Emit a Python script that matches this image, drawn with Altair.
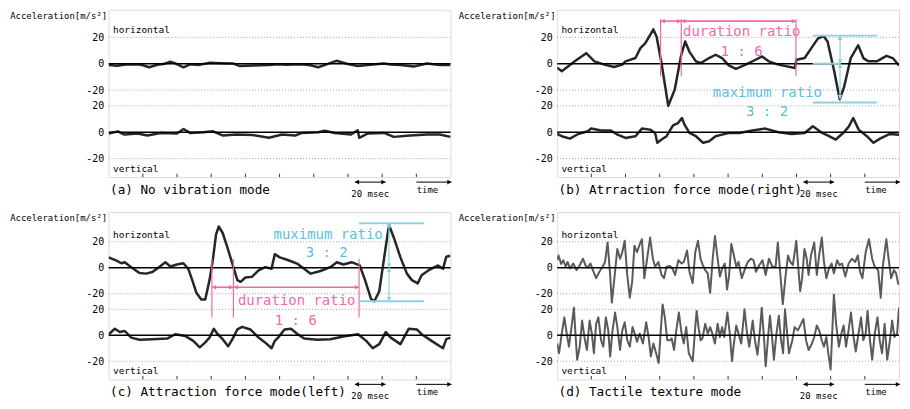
import altair as alt
import pandas as pd

V_OFF = 52
FONT = "DejaVu Sans Mono"
INK = "#262626"
INK_D = "#5a5a5a"
PINK = "#f06aa8"
CYAN = "#5bbfdc"
CYAN_LINE = "#8fd0e2"

W = 343
H = 168
X_DOMAIN = [0, 200]
Y_DOMAIN_TOP = [-86, 41]
Y_DOMAIN_BOT = [-86, 43]
Y_TICKS = [20, 0, -20, 20 - V_OFF, -V_OFF, -20 - V_OFF]
GRID_Y = [20, -20, 20 - V_OFF, -20 - V_OFF]
ZERO_Y = [0, -V_OFF]
X_TICKS = [20, 40, 60, 80, 100, 120, 140, 160, 180]

CAPTIONS = ["(a) No vibration mode", "(b) Atrraction force mode(right)",
            "(c) Attraction force mode(left)", "(d) Tactile texture mode"]

# ---- signals: (time [ms], acceleration [m/s^2]) ----
A_H = [(0, -1), (5, -1.5), (10, -0.6), (16.9, -0.5), (20, -1.2), (23.7, -2.7), (28.5, -0.8),
       (32, -0.3), (36.1, 1.5), (39.0, 0.2), (43.8, -2.7), (47.6, -0.5), (53, -0.9), (59.2, 0.7),
       (66, 0.4), (72.6, 0.2), (76.5, -1.7), (85, -1.3), (93.8, -1), (99, -0.4), (104, -0.7),
       (113.0, -0.5), (118, -1.2), (122.6, -2.7), (127.4, -0.5), (133.2, 2.2), (139.9, -0.2),
       (145.7, -1.7), (153, -0.8), (161.1, 0.2), (165, -0.6), (170.7, -1), (178.4, -2.2),
       (186.1, 0.2), (193.7, -1), (200, -1)]
A_V = [(0, -1), (5.4, 0.7), (9.2, -1.7), (16.9, -1), (22.7, -2.5), (30.4, -0.5), (40.0, -1),
       (43.8, 2.5), (47.6, -0.5), (55.3, 0), (61.1, 0.7), (66.9, -2.5), (74.6, -1.7),
       (84.2, -2), (93.8, -4.2), (101.4, -1.7), (109.1, -2.5), (113.0, -0.5), (122.6, 0),
       (126.4, 1.2), (132.2, -0.5), (141.8, -1.7), (145.7, 1.5), (146.6, -4.2), (151.4, -1),
       (161.1, -0.5), (166.8, -3.5), (176.4, -2.5), (186.1, -1.7), (193.7, -1.7), (200, -3.5)]

B_H = [(0, -3), (2.7, -5.7), (10.3, 1.8), (17.0, 8), (21.8, 1.8), (27.6, -0.7), (33.3, -2.5),
       (38.1, -0.7), (40.0, 1.8), (45.8, 4.3), (48.7, 11.8), (51.5, 15.5), (56.3, 26),
       (58.2, 20.5), (61.1, 0), (65.0, -32), (68.8, -19.5), (72.6, 6.8), (74.9, 16.8),
       (77.4, 9), (81.2, 1.8), (84.1, 0.5), (88.9, 4.3), (92.7, 6.8), (96.5, 4.3),
       (100.4, -1.3), (104.6, -4), (110.3, -0.7), (116.1, 3), (119.9, 5.5), (123.8, 1.8),
       (129.5, -0.7), (139.1, -3.3), (140.0, 3), (144.8, 4.3), (148.7, 11.8), (152.5, 19),
       (155.8, 21), (158.2, 16.8), (162.1, -5.7), (165.3, -27), (167.8, -18), (171.7, 4),
       (176.1, 14), (179.3, 4), (182.2, 1.8), (187.0, 1.8), (192.7, 6), (196.6, 4), (200, -1.3)]
B_V = [(0, -1.3), (2.7, -3), (7.5, -4.8), (12.3, -1.3), (18.0, 0.8), (19.9, 2.8), (25.7, 1.3),
       (31.4, 1.3), (35.3, -1.8), (40.0, -4.3), (45.8, -3), (49.6, 2.8), (54.4, 2),
       (57.3, -0.5), (58.6, -8), (61.1, -5.5), (64.0, -3), (67.8, 5.3), (70.7, 7), (73.0, 10.8),
       (74.5, 5.8), (77.4, -0.5), (81.2, -3), (85.4, -8), (88.9, -6.8), (92.7, -3), (96.5, -1.8),
       (100.4, -0.5), (106.5, -0.5), (114.2, 1.3), (121.8, 2.8), (129.5, 0), (137.2, -1.3),
       (144.8, -0.5), (149.6, 4.5), (154.4, 0), (158.2, -2.3), (163.0, -5.5), (167.8, 0),
       (170.7, 4.5), (173.2, 10.8), (176.4, 2), (181.2, -3), (185.1, -8), (188.9, -4.8),
       (194.6, -1.3), (200, -1.8)]

C_H = [(0, 8), (4.6, 5.5), (7.4, 3.5), (9.4, 4.3), (13.2, 0.5), (18.0, -4), (21.8, -4.5),
       (25.6, -3.3), (29.4, 0.5), (33.2, 4.3), (36.1, 1), (39.9, 2.5), (43.7, 3.5), (46.6, -0.8),
       (48.9, -9.5), (51.4, -19.5), (54.2, -24.5), (56.5, -24.5), (59.0, -9.5), (60.9, 5.5),
       (62.8, 25.5), (64.4, 31.8), (66.7, 26.8), (69.5, 15.5), (72.4, 3), (75.3, -9.5),
       (77.2, -10.8), (80.0, -7.5), (83.8, -7), (87.7, -2), (91.5, 0.5), (95.3, -0.8),
       (97.2, 10.5), (100.1, 8), (104.8, 6), (110.6, 3), (118.2, -4.5), (123.9, -2.5),
       (129.7, 0.5), (133.5, 4.3), (137.3, 2.5), (142.1, 4.3), (146.9, 1.8), (149.7, -8.3),
       (153.5, -24), (155.4, -25.8), (158.3, -18.3), (161.2, 8), (164.0, 33), (166.9, 23),
       (170.7, 8), (174.5, -4.5), (177.4, -9.5), (180.8, -12), (183.1, -5.8), (187.0, -2),
       (192.7, 1.8), (195.6, -0.8), (197.5, 8.5), (200, 9.3)]
C_V = [(0, 0.8), (3.6, 5), (6.5, 2.5), (9.4, 3.3), (13.2, -1.8), (18.0, -3.5), (25.6, -3),
       (34.2, -2.5), (39.0, 0.8), (44.7, -0.5), (49.5, -4.3), (53.3, -9.3), (56.1, -6),
       (59.0, -1.8), (61.5, 5), (63.8, 0.8), (66.7, -3), (69.9, -8.5), (72.4, -3), (75.3, 4.5),
       (78.1, 6.5), (82.9, 4.5), (87.7, -1.8), (91.5, -5.5), (95.3, -10), (97.2, -4.3),
       (99.1, -1.8), (102.9, 4.5), (106.7, 5), (110.6, 0.8), (114.4, -2.5), (122.0, -3.5),
       (129.7, -3), (137.3, -1), (145.9, 0.8), (150.7, -4.3), (154.5, -10), (158.3, -6.8),
       (162.1, 2.5), (165.0, -1.8), (170.7, -6.8), (175.5, 5), (180.3, 4.5), (183.1, 0.8),
       (188.9, -4.3), (195.6, -10), (197.5, -3), (200, -1.8)]

D_H = [(0, 6), (0.8, 9.5), (2.3, 3), (3.6, 5.8), (5.0, 0.8), (6.1, 4.5), (7.5, -0.5), (9.4, 3.3),
       (11.3, -1.8), (13.2, 2), (15.1, 7), (16.5, 2), (18.0, 0), (19.5, 3.3), (20.9, -1.8),
       (22.8, -8), (24.7, -3), (26.6, 0.8), (28.0, 4.5), (29.5, 19.5), (31.0, -5.5),
       (32.0, -26.8), (33.3, -10.5), (35.2, 14.5), (36.8, 7), (38.1, 12), (39.5, 20.8),
       (41.0, -5.5), (42.5, -23), (43.9, -10.5), (45.2, 17), (46.7, 12), (48.7, 19.5),
       (49.6, 22), (51.0, -8), (54.4, 23.3), (56.0, 7), (57.3, 0.8), (59.2, 4.5), (61.1, -5.5),
       (62.5, -8), (64.0, 0.8), (65.9, 1.5), (67.4, -0.5), (69.0, -5.5), (70.9, 5.8),
       (72.8, 3.3), (74.1, 4.5), (76.0, 13.3), (77.4, -3), (79.3, -11.8), (80.8, 12),
       (82.4, 20.8), (83.9, 7), (85.2, 2), (86.6, -1.8), (88.1, -4.3), (89.5, -19.3), (91.0, 7),
       (92.3, 24.5), (93.9, 7), (95.2, -6.8), (96.5, -0.5), (98.1, 3.3), (99.4, -16.8),
       (100.6, -5.5), (101.9, 18.3), (103.4, 9.5), (104.8, 0.8), (106.1, 4.5), (108.0, -8),
       (110.0, -0.5), (111.5, 4.5), (113.4, 7), (114.9, 5.8), (116.3, -3), (118.2, 2),
       (120.1, 5.8), (122.0, -5.5), (123.9, 7), (125.9, 0.8), (127.8, 0.8), (129.1, 19.5),
       (130.6, -5.5), (132.0, -28), (133.7, -5.5), (135.1, 9.5), (136.4, 4.5), (137.9, 2),
       (139.9, 20.8), (141.4, -5.5), (142.2, -18), (143.3, -8), (144.7, 14.5), (146.0, 7),
       (147.1, -5.5), (148.5, 9.5), (150.4, 19.5), (151.9, -5.5), (153.3, 9.5), (154.8, 23.3),
       (156.1, 4.5), (157.5, -8), (159.0, -0.5), (160.6, 3.3), (161.9, -4.3), (163.8, 5.8),
       (165.2, 2), (166.7, 3.3), (168.6, -6.8), (170.5, 3.3), (172.4, 7), (174.4, 4.5),
       (175.9, 9.5), (177.2, -3), (178.6, -8), (180.5, 12), (182.4, 22), (184.3, 7),
       (185.8, 0.8), (187.8, -1.8), (189.3, -23), (190.6, 2), (192.6, 22), (193.9, 7),
       (195.4, -8), (197.0, -1.8), (198.3, -4.3), (199.6, -13)]
D_V = [(0, -6.3), (1.1, -13.8), (2.7, 1.3), (4.2, 13.8), (5.6, 1.3), (6.9, -8.8), (8.4, 6.3),
       (9.8, 21.3), (10.7, 1.3), (11.7, -18.8), (13.2, -8.8), (14.6, 11.3), (16.1, -2.5),
       (17.4, -11.3), (19.0, 11.3), (20.3, 1.3), (21.5, -13.8), (22.8, 8.8), (24.1, 13.8),
       (25.7, -3.8), (27.0, -8.8), (28.5, 13.8), (29.9, 3.8), (31.0, -16.3), (32.4, 3.8),
       (33.9, 17.5), (35.2, 6.3), (36.8, -11.3), (38.1, 3.8), (39.5, 10), (41.0, -3.8),
       (42.5, -8.8), (44.1, 6.3), (45.4, 1.3), (46.7, -5), (48.3, 1.3), (50.2, -6.3), (52.1, 10),
       (53.5, -1.3), (54.8, -16.3), (56.3, -6.3), (57.9, -13.8), (59.4, -21.3), (60.5, 1.3),
       (61.7, 23.8), (63.0, 13.8), (64.4, -3.8), (65.9, -3.8), (67.0, -2.5), (68.4, -11.3),
       (69.7, 3.8), (71.2, 17.5), (72.8, 1.3), (74.1, -6.3), (75.5, 6.3), (77.0, -13.8),
       (79.3, -20), (80.8, 6.3), (81.6, 18.8), (82.7, 6.3), (83.9, -3.8), (85.0, -2.5),
       (86.6, 8.8), (88.1, 1.3), (89.5, 6.3), (90.8, 1.3), (92.3, -6.3), (93.9, 8.8),
       (95.2, -1.3), (96.5, 6.3), (97.7, -1.3), (99.6, 17.5), (101.0, 1.3), (102.3, -20),
       (103.4, -6.3), (104.8, 7.5), (106.1, 1.3), (107.7, -6.3), (109.6, 20), (111.1, 1.3),
       (112.4, -8.8), (114.4, 11.3), (115.7, -3.8), (117.2, -15), (118.8, 6.3), (119.7, 21.3),
       (121.1, -3.8), (122.0, -23.8), (123.4, -1.3), (124.5, 15), (125.9, -3.8), (126.8, -18.8),
       (128.3, 1.3), (129.7, 15), (131.0, -3.8), (132.2, -13.8), (133.3, 20), (135.6, -13.8),
       (137.6, -3.8), (138.9, 6.3), (140.8, 3.8), (142.7, 8.8), (144.1, 12.5), (145.6, -3.8),
       (147.1, -11.3), (149.1, -6.3), (150.4, -1.3), (151.9, 7.5), (153.3, 3.8), (154.8, -3.8),
       (156.1, -8.8), (157.5, -1.3), (158.6, -13.8), (160.0, -26.3), (160.9, 1.3), (161.9, 31.3),
       (163.2, 8.8), (164.8, -8.8), (166.3, 1.3), (167.6, 7.5), (169.0, -8.8), (170.5, 3.8),
       (171.9, 17.5), (173.4, -1.3), (174.7, -12.5), (176.3, 1.3), (177.8, 13.8), (179.1, -3.8),
       (180.5, 1.3), (181.6, 18.8), (183.0, -3.8), (184.3, -18.8), (185.8, 1.3), (187.4, 13.8),
       (188.7, -3.8), (190.1, -13.8), (191.6, 8.8), (193.1, -18.8), (194.7, -3.8), (196.0, 11.3),
       (197.3, -1.3), (198.9, 1.3), (200, 21.3)]

# ---- annotations (time [ms], acceleration) ----
B_PINK_VLINES = [60.5, 72.6, 139.7]
B_PINK_SPAN = (-9.5, 34)
B_PINK_ARROWS = [(60.5, 72.6, 32.3), (72.6, 139.7, 32.3)]
B_PINK_TEXT = [("duration ratio", 108, 23.7), ("1 : 6", 108, 8.9)]
B_CYAN_HLINES = [(149.6, 187, 21.3), (149.6, 165.9, 0), (149.6, 187, -29.5)]
B_CYAN_VARROWS = [(165.5, 21.3, 0), (165.5, 0, -27)]
B_CYAN_TEXT = [("maximum ratio", 123, -22.5), ("3 : 2", 122.8, -36.8)]

C_PINK_VLINES = [60.4, 73.0, 146.5]
C_PINK_SPAN = (-38.3, 6.8)
C_PINK_ARROWS = [(60.4, 73.0, -15), (73.0, 146.5, -15)]
C_PINK_TEXT = [("duration ratio", 110, -25.4), ("1 : 6", 109.5, -40.7)]
C_CYAN_HLINES = [(146.5, 184.5, 34.3), (146.5, 184.5, -25.8)]
C_CYAN_VARROWS = [(164, 34.3, 0), (164, 0, -25.8)]
C_CYAN_TEXT = [("muximum ratio", 128.4, 25.2), ("3 : 2", 127.6, 11.1)]

SCALE_ARROW = (144, 162)
TIME_ARROW = (180, 200.6)

DX = 1.3   # arrow head offset along time
DY = 1.7   # arrow head offset along acceleration


def build_panel(h_pts, v_pts, ydom, caption, line_color, line_w, ann=None):
    ymin = ydom[0]
    xs = alt.Scale(domain=X_DOMAIN, nice=False, zero=False)
    ys = alt.Scale(domain=ydom, nice=False, zero=False)
    yaxis = alt.Axis(
        values=Y_TICKS,
        labelExpr=f"datum.value < -26 ? '' + (datum.value + {V_OFF}) : '' + datum.value",
        title="Acceleration[m/s²]", titleAngle=0, titleAlign="right", titleBaseline="middle",
        titleX=-2, titleY=6, titleFont=FONT, titleFontSize=9, titleFontWeight="normal",
        titleColor="black", labelFont=FONT, labelFontSize=10, labelColor="black",
        labelPadding=5, ticks=False, domain=False, grid=False,
    )

    def X(f):
        return alt.X(f"{f}:Q", scale=xs, axis=None)

    def Y(f):
        return alt.Y(f"{f}:Q", scale=ys, axis=yaxis)

    rows = [dict(t=t, y=v, s="h") for t, v in h_pts] + \
           [dict(t=t, y=v - V_OFF, s="v") for t, v in v_pts]
    sig = pd.DataFrame(rows)

    layers = []
    layers.append(alt.Chart(pd.DataFrame({"y": GRID_Y})).mark_rule(
        color="#8a8a8a", strokeWidth=0.8, strokeDash=[1, 2]).encode(y=Y("y")))
    layers.append(alt.Chart(sig).mark_line(
        color=line_color, strokeWidth=line_w, clip=True, strokeJoin="round").encode(
        x=X("t"), y=Y("y"), detail="s:N"))
    layers.append(alt.Chart(pd.DataFrame({"y": ZERO_Y})).mark_rule(
        color="black", strokeWidth=1.5).encode(y=Y("y")))
    layers.append(alt.Chart(pd.DataFrame({"x": X_TICKS, "y": ymin, "y2": ymin + 2.6})).mark_rule(
        color="#333", strokeWidth=1).encode(x=X("x"), y=Y("y"), y2="y2:Q"))

    # channel labels
    lab = pd.DataFrame({"x": [2.5, 2.5], "y": [25.5, -79.5], "txt": ["horizontal", "vertical"]})
    layers.append(alt.Chart(lab).mark_text(
        align="left", baseline="middle", font=FONT, fontSize=9.5, color="black").encode(
        x=X("x"), y=Y("y"), text="txt:N"))

    segs, heads, texts_big = [], [], []

    def harrow(x1, x2, y, color, w, left=True, right=True):
        segs.append(dict(x=x1, x2=x2, y=y, y2=y, c=color, w=w))
        if left:
            heads.append(dict(x=x1 + DX, y=y, shape="triangle-left", c=color))
        if right:
            heads.append(dict(x=x2 - DX, y=y, shape="triangle-right", c=color))

    def varrow(x, y1, y2, color, w):
        segs.append(dict(x=x, x2=x, y=y1, y2=y2, c=color, w=w))
        heads.append(dict(x=x, y=y1 - DY, shape="triangle-up", c=color))
        heads.append(dict(x=x, y=y2 + DY, shape="triangle-down", c=color))

    # bottom: 20 msec scale and time arrow
    harrow(SCALE_ARROW[0], SCALE_ARROW[1], ymin - 3.8, "black", 1)
    harrow(TIME_ARROW[0], TIME_ARROW[1], ymin - 3.8, "black", 1, left=False)

    if ann is not None:
        for x in ann["pink_v"]:
            segs.append(dict(x=x, x2=x, y=ann["pink_span"][0], y2=ann["pink_span"][1], c=PINK, w=1.2))
        for a, b, y in ann["pink_arrows"]:
            harrow(a, b, y, PINK, 1.6)
        for a, b, y in ann["cyan_h"]:
            segs.append(dict(x=a, x2=b, y=y, y2=y, c=CYAN_LINE, w=2))
        for x, y1, y2 in ann["cyan_v"]:
            varrow(x, y1, y2, CYAN_LINE, 1.2)
        for s, x, y in ann["pink_text"]:
            texts_big.append(dict(x=x, y=y, txt=s, c=PINK))
        for s, x, y in ann["cyan_text"]:
            texts_big.append(dict(x=x, y=y, txt=s, c=CYAN))

    layers.append(alt.Chart(pd.DataFrame(segs)).mark_rule().encode(
        x=X("x"), x2="x2:Q", y=Y("y"), y2="y2:Q",
        color=alt.Color("c:N", scale=None), strokeWidth=alt.StrokeWidth("w:Q", scale=None)))
    layers.append(alt.Chart(pd.DataFrame(heads)).mark_point(
        filled=True, size=22, opacity=1).encode(
        x=X("x"), y=Y("y"), shape=alt.Shape("shape:N", scale=None),
        color=alt.Color("c:N", scale=None)))
    if texts_big:
        layers.append(alt.Chart(pd.DataFrame(texts_big)).mark_text(
            align="center", baseline="middle", font=FONT, fontSize=14).encode(
            x=X("x"), y=Y("y"), text="txt:N", color=alt.Color("c:N", scale=None)))

    small = pd.DataFrame({"x": [153, 186.5], "y": [ymin - 12.5, ymin - 9.5], "txt": ["20 msec", "time"]})
    layers.append(alt.Chart(small).mark_text(
        align="center", baseline="middle", font=FONT, fontSize=9, color="black").encode(
        x=X("x"), y=Y("y"), text="txt:N"))
    cap = pd.DataFrame({"x": [0.8], "y": [ymin - 9.8], "txt": [caption]})
    layers.append(alt.Chart(cap).mark_text(
        align="left", baseline="middle", font=FONT, fontSize=12.7, color="black").encode(
        x=X("x"), y=Y("y"), text="txt:N"))

    return alt.layer(*layers).properties(width=W, height=H)


ANN_B = dict(pink_v=B_PINK_VLINES, pink_span=B_PINK_SPAN, pink_arrows=B_PINK_ARROWS,
             pink_text=B_PINK_TEXT, cyan_h=B_CYAN_HLINES, cyan_v=B_CYAN_VARROWS,
             cyan_text=B_CYAN_TEXT)
ANN_C = dict(pink_v=C_PINK_VLINES, pink_span=C_PINK_SPAN, pink_arrows=C_PINK_ARROWS,
             pink_text=C_PINK_TEXT, cyan_h=C_CYAN_HLINES, cyan_v=C_CYAN_VARROWS,
             cyan_text=C_CYAN_TEXT)

pa = build_panel(A_H, A_V, Y_DOMAIN_TOP, CAPTIONS[0], INK, 2.5)
pb = build_panel(B_H, B_V, Y_DOMAIN_TOP, CAPTIONS[1], INK, 2.5, ANN_B)
pc = build_panel(C_H, C_V, Y_DOMAIN_BOT, CAPTIONS[2], INK, 2.5, ANN_C)
pd_ = build_panel(D_H, D_V, Y_DOMAIN_BOT, CAPTIONS[3], INK_D, 2.0)

chart = alt.ConcatChart(
    concat=[pa, pb, pc, pd_], columns=2,
    spacing={"row": 35, "column": 107}, bounds="flush", padding=0,
).configure_view(stroke="#555", strokeWidth=1.2).configure(font=FONT, background="white")

chart.save("out.html", embed_options={"renderer": "svg", "actions": False})
